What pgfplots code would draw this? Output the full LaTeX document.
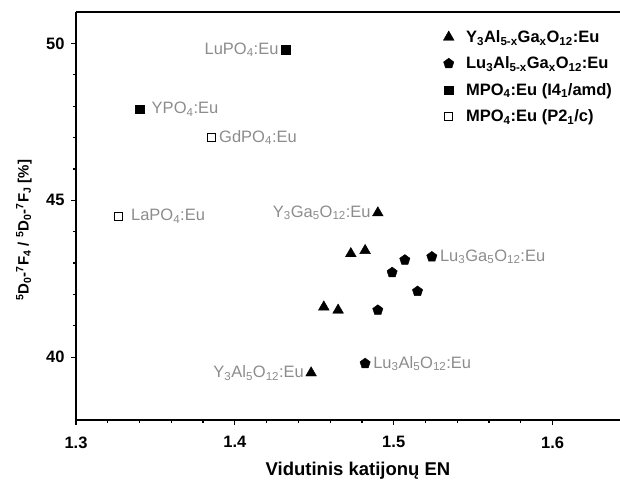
\documentclass[border=0pt]{standalone}
\usepackage{fontspec}
\setmainfont{Liberation Sans}
\usepackage{pgfplots}
\pgfplotsset{compat=1.18}
\usetikzlibrary{plotmarks}

\definecolor{lblgray}{HTML}{8C8C8C}

\newcommand{\tfs}{\fontsize{16.5bp}{19bp}\selectfont}
\newcommand{\lfs}{\fontsize{16.5bp}{19bp}\selectfont}
\newcommand{\xfs}{\fontsize{18.5bp}{22bp}\selectfont}
\newcommand{\yfs}{\fontsize{15bp}{18bp}\selectfont}
\newcommand{\nfs}{\fontsize{16.5bp}{19bp}\selectfont}

\begin{document}
\begin{tikzpicture}
\begin{axis}[
  scale only axis,
  width=556bp, height=408bp,
  xmin=1.3, xmax=1.65,
  ymin=38, ymax=51,
  axis lines*=left,
  axis line style={line width=1.5bp, -},
  tick style={line width=1.2bp, black},
  tick align=outside,
  major tick length=5bp,
  minor tick length=3bp,
  xtick={1.3,1.4,1.5,1.6},
  minor x tick num=4,
  ytick={40,45,50},
  minor y tick num=4,
  xticklabel style={/pgf/number format/fixed, /pgf/number format/precision=1,
    /pgf/number format/fixed zerofill, yshift=-8bp},
  yticklabel style={xshift=-3bp},
  /pgf/number format/assume math mode=true,
  tick label style={font=\tfs\bfseries},
  xlabel={Vidutinis katijonų EN},
  xlabel style={font=\xfs\bfseries, at={(rel axis cs:0.5,0)}, anchor=center, yshift=-51bp, xshift=4bp},
  ylabel={\textsuperscript{5}D\textsubscript{0}-\textsuperscript{7}F\textsubscript{4} / \textsuperscript{5}D\textsubscript{0}-\textsuperscript{7}F\textsubscript{J} [\%]},
  ylabel style={font=\yfs\bfseries, at={([xshift=-52bp]rel axis cs:0,0.465)}, anchor=center},
  clip=false,
  legend cell align=left,
  legend style={draw=none, fill=none, font=\lfs\bfseries,
    at={(0.655,0.965)}, anchor=north west, row sep=9bp, column sep=10bp},
]
% Y3Al(5-x)GaxO12:Eu garnets
\addplot[only marks, mark=triangle*, mark size=6.2bp, black] coordinates {
  (1.448,39.5) (1.456,41.6) (1.465,41.5) (1.473,43.3) (1.482,43.4) (1.490,44.6)
};
\addlegendentry{Y\textsubscript{3}Al\textsubscript{5-x}Ga\textsubscript{x}O\textsubscript{12}:Eu}
% Lu3Al(5-x)GaxO12:Eu garnets
\addplot[only marks, mark=pentagon*, mark size=5.4bp, black] coordinates {
  (1.482,39.8) (1.490,41.5) (1.499,42.7) (1.507,43.1) (1.515,42.1) (1.524,43.2)
};
\addlegendentry{Lu\textsubscript{3}Al\textsubscript{5-x}Ga\textsubscript{x}O\textsubscript{12}:Eu}
% tetragonal orthophosphates
\addplot[only marks, mark=square*, mark size=4.2bp, black] coordinates {
  (1.340,47.9) (1.432,49.8)
};
\addlegendentry{MPO\textsubscript{4}:Eu (I4\textsubscript{1}/amd)}
% monoclinic orthophosphates
\addplot[only marks, mark=square, mark size=4bp, black, mark options={line width=0.8bp}] coordinates {
  (1.327,44.5) (1.385,47.0)
};
\addlegendentry{MPO\textsubscript{4}:Eu (P2\textsubscript{1}/c)}

% top frame line
\draw[line width=1.5bp] (rel axis cs:0,1) -- (rel axis cs:1,1);

% point labels
\begin{scope}[every node/.style={font=\nfs, text=lblgray, inner sep=0pt}]
\node[anchor=east] at ([xshift=-7bp]axis cs:1.432,49.8) {LuPO\textsubscript{4}:Eu};
\node[anchor=west] at ([xshift=12bp]axis cs:1.340,47.9) {YPO\textsubscript{4}:Eu};
\node[anchor=west] at ([xshift=8bp]axis cs:1.385,47.0) {GdPO\textsubscript{4}:Eu};
\node[anchor=west] at ([xshift=12bp]axis cs:1.327,44.5) {LaPO\textsubscript{4}:Eu};
\node[anchor=east] at ([xshift=-7bp]axis cs:1.490,44.6) {Y\textsubscript{3}Ga\textsubscript{5}O\textsubscript{12}:Eu};
\node[anchor=east] at ([xshift=-7bp]axis cs:1.448,39.5) {Y\textsubscript{3}Al\textsubscript{5}O\textsubscript{12}:Eu};
\node[anchor=west] at ([xshift=8bp]axis cs:1.524,43.2) {Lu\textsubscript{3}Ga\textsubscript{5}O\textsubscript{12}:Eu};
\node[anchor=west] at ([xshift=8bp]axis cs:1.482,39.8) {Lu\textsubscript{3}Al\textsubscript{5}O\textsubscript{12}:Eu};
\end{scope}
\end{axis}
\pgfresetboundingbox
\path[use as bounding box] (-76bp,-62bp) rectangle (544bp,420bp);
\end{tikzpicture}
\end{document}
